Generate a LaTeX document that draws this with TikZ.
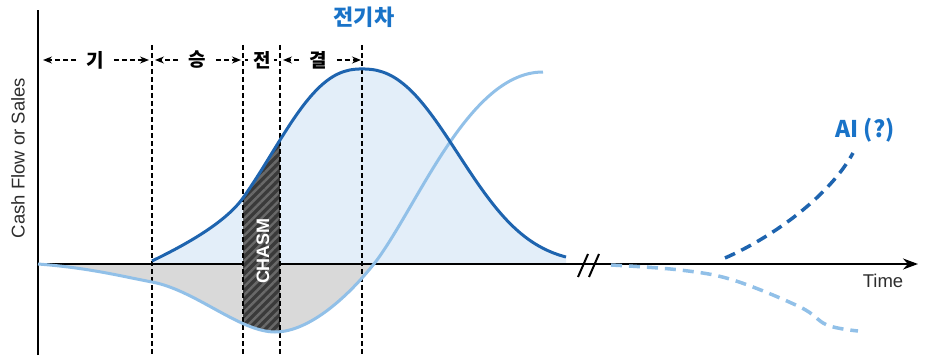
\documentclass[tikz,border=0pt]{standalone}
\usepackage{fontspec}
\setmainfont{Liberation Sans}
\newfontfamily\kr{Noto Sans CJK KR}
\usetikzlibrary{arrows.meta,patterns.meta}
\definecolor{darkblue}{RGB}{30,100,175}
\definecolor{titleblue}{RGB}{25,115,200}
\definecolor{lightline}{RGB}{145,192,232}
\definecolor{bluefill}{RGB}{227,238,249}
\definecolor{grayfill}{RGB}{217,217,217}
\definecolor{chasmdark}{RGB}{58,58,58}
\definecolor{chasmstripe}{RGB}{105,105,105}
\definecolor{labelgray}{RGB}{45,45,45}
\begin{document}
\begin{tikzpicture}[x=1pt,y=-1pt,
  bellpath/.style={insert path={-- (152,261) .. controls (185,245) and (225,223) .. (243,198) -- plot[domain=243:362,samples=50] (\x,{264-195*exp(0-pow((362.01-\x)/115,2.34))}) -- plot[domain=362:566,samples=70] (\x,{264-195*exp(0-pow((\x-361.99)/122,2.34))})}},
  spath/.style={insert path={-- (38,264) .. controls (90,268) and (120,276) .. (152,282) .. controls (195,290) and (240,332) .. (275,332) .. controls (310,332) and (350,295) .. (377,260) .. controls (420,201) and (470,72) .. (543,72)}},
  darkline/.style={draw=darkblue,line width=3pt},
  lightcurve/.style={draw=lightline,line width=3pt},
  axisline/.style={draw=black,line width=2pt},
  vdash/.style={draw=black,line width=1.4pt,dash pattern=on 5pt off 3pt},
  hdr/.style={draw=black,line width=1.4pt,dash pattern=on 5pt off 3pt,-{Stealth[length=9pt,width=7pt]}},
  hdrplain/.style={draw=black,line width=1.4pt,dash pattern=on 3pt off 3pt},
  hlabel/.style={font=\kr\bfseries\fontsize{19}{19}\selectfont,inner xsep=10pt,inner ysep=2pt},
  brk/.style={draw=black,line width=2pt},
  aidash/.style={draw=darkblue,line width=3.5pt,dash pattern=on 11pt off 7pt},
  lightdash/.style={draw=lightline,line width=3.5pt,dash pattern=on 11pt off 7pt}]
\useasboundingbox (0,0) rectangle (930,361);
% fills
\fill[bluefill] (152,264) [bellpath] -- (566,264) -- cycle;
\begin{scope}
  \clip (38,264) rectangle (400,361);
  \fill[grayfill] (38,264) [spath] -- (543,264) -- cycle;
\end{scope}
% axes
\coordinate (O) at (38,264);
\coordinate (ytop) at (38,10);
\coordinate (ybot) at (38,355);
\coordinate (xend) at (918,264);
\draw[axisline] (ybot) -- (ytop);
\draw[axisline,-{Stealth[length=15pt,width=11pt]}] (O) -- (xend);
% chasm band
\begin{scope}
  \clip (243,0) rectangle (280,361);
  \clip (152,361) [bellpath] -- (566,361) -- cycle;
  \clip (38,0) -- (38,264) [spath] -- (543,0) -- cycle;
  \fill[chasmdark] (243,0) rectangle (280,361);
  \fill[pattern={Lines[angle=45,distance=6pt,line width=2.4pt]},pattern color=chasmstripe] (243,0) rectangle (280,361);
\end{scope}
\node[rotate=90,text=white,font=\bfseries\fontsize{18}{18}\selectfont] (chasm) at (263,251) {CHASM};
% dashed verticals
\foreach \n/\xx in {1/152,2/243,3/280,4/362}{
  \coordinate (v\n t) at (\xx,45);
  \coordinate (v\n b) at (\xx,355);
  \draw[vdash] (v\n t) -- (v\n b);
}
% curves
\draw[lightcurve] (38,264) [spath];
\draw[darkline] (152,261) [bellpath];
% header row
\coordinate (h0) at (43,60);
\coordinate (h1l) at (149,60);
\coordinate (h1r) at (155,60);
\coordinate (h2l) at (241,60);
\coordinate (h2r) at (245,60);
\coordinate (h3l) at (278,60);
\coordinate (h3r) at (283,60);
\coordinate (h4l) at (361,60);
\node[hlabel] (k1) at (95,60) {기};
\node[hlabel] (k2) at (197,60) {승};
\node[hlabel,inner xsep=3pt] (k3) at (262,60) {전};
\node[hlabel] (k4) at (318,60) {결};
\draw[hdr] (k1.west) -- (h0);
\draw[hdr] (k1.east) -- (h1l);
\draw[hdr] (k2.west) -- (h1r);
\draw[hdr] (k2.east) -- (h2l);
\draw[hdrplain] (h2r) -- (k3.west);
\draw[hdrplain] (k3.east) -- (h3l);
\draw[hdr] (k4.west) -- (h3r);
\draw[hdr] (k4.east) -- (h4l);
% break mark
\coordinate (b1a) at (578,277); \coordinate (b1b) at (588,254);
\coordinate (b2a) at (589,277); \coordinate (b2b) at (599,254);
\draw[brk] (b1a) -- (b1b);
\draw[brk] (b2a) -- (b2b);
% future curves
\coordinate (ai0) at (725,258);
\coordinate (ai1) at (853,153);
\draw[aidash] (ai0) .. controls (775,236) and (830,195) .. (ai1);
\draw[lightdash] plot[smooth,tension=0.6] coordinates {(611,265) (680,270) (733,280) (800,307) (827,325) (858,331)};
% labels
\node[font=\kr\bfseries\fontsize{22}{22}\selectfont,text=titleblue] (ev) at (364,17) {전기차};
\node[font=\kr\bfseries\fontsize{23}{23}\selectfont,text=titleblue] (ai) at (865,130) {AI (?)};
\node[rotate=90,text=labelgray,font=\fontsize{18.5}{18.5}\selectfont] (ylab) at (18,158) {Cash Flow or Sales};
\node[text=labelgray,font=\fontsize{18.5}{18.5}\selectfont] (time) at (883,281) {Time};
\end{tikzpicture}
\end{document}
